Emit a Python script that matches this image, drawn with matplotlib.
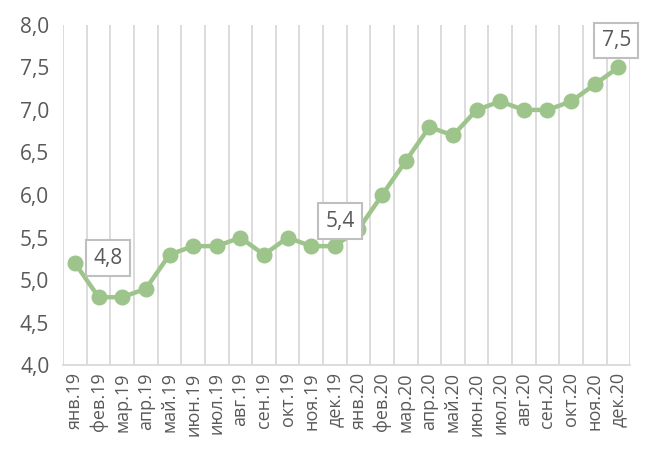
import matplotlib.pyplot as plt

months = ["янв.19", "фев.19", "мар.19", "апр.19", "май.19", "июн.19",
          "июл.19", "авг.19", "сен.19", "окт.19", "ноя.19", "дек.19",
          "янв.20", "фев.20", "мар.20", "апр.20", "май.20", "июн.20",
          "июл.20", "авг.20", "сен.20", "окт.20", "ноя.20", "дек.20"]
values = [5.2, 4.8, 4.8, 4.9, 5.3, 5.4, 5.4, 5.5, 5.3, 5.5, 5.4, 5.4,
          5.6, 6.0, 6.4, 6.8, 6.7, 7.0, 7.1, 7.0, 7.0, 7.1, 7.3, 7.5]
labeled = {1: (9, 39), 11: (5, 25), 23: (-2, 27)}

plt.rcParams['font.family'] = ['Open Sans', 'DejaVu Sans']
txt = "#595959"
green = "#9DC48B"

fig = plt.figure(figsize=(6.45, 4.51), dpi=100)
ax = fig.add_axes([0.098, 0.19, 0.879, 0.755])

x = list(range(len(months)))
ax.plot(x, values, color=green, lw=3.2, marker="o", ms=10.5, zorder=3)

ax.set_xlim(-0.5, len(months) - 0.5)
ax.set_ylim(4.0, 8.0)
ax.set_yticks([4.0 + 0.5 * i for i in range(9)])
ax.set_yticklabels([f"{4.0 + 0.5 * i:.1f}".replace(".", ",") for i in range(9)],
                   fontsize=15, color=txt)
ax.set_xticks(x)
ax.set_xticklabels(months, rotation=90, fontsize=13, color=txt)
ax.set_xticks([i - 0.5 for i in range(len(months) + 1)], minor=True)
ax.grid(True, which="minor", axis="x", color="#D9D9D9", lw=1.3)
ax.tick_params(axis="both", which="both", length=0)
ax.tick_params(axis="y", pad=10)
ax.tick_params(axis="x", pad=5)

for s in ["top", "right", "left"]:
    ax.spines[s].set_visible(False)
ax.spines["bottom"].set_color("#D9D9D9")
ax.spines["bottom"].set_linewidth(1.3)

for i, off in labeled.items():
    ax.annotate(f"{values[i]:.1f}".replace(".", ","), (x[i], values[i]),
                xytext=off, textcoords="offset pixels", ha="center", va="center",
                fontsize=15, color=txt,
                bbox=dict(boxstyle="square,pad=0.35", fc="white", ec="#BFBFBF", lw=1.5),
                zorder=4)

fig.savefig("out.png", dpi=100)
